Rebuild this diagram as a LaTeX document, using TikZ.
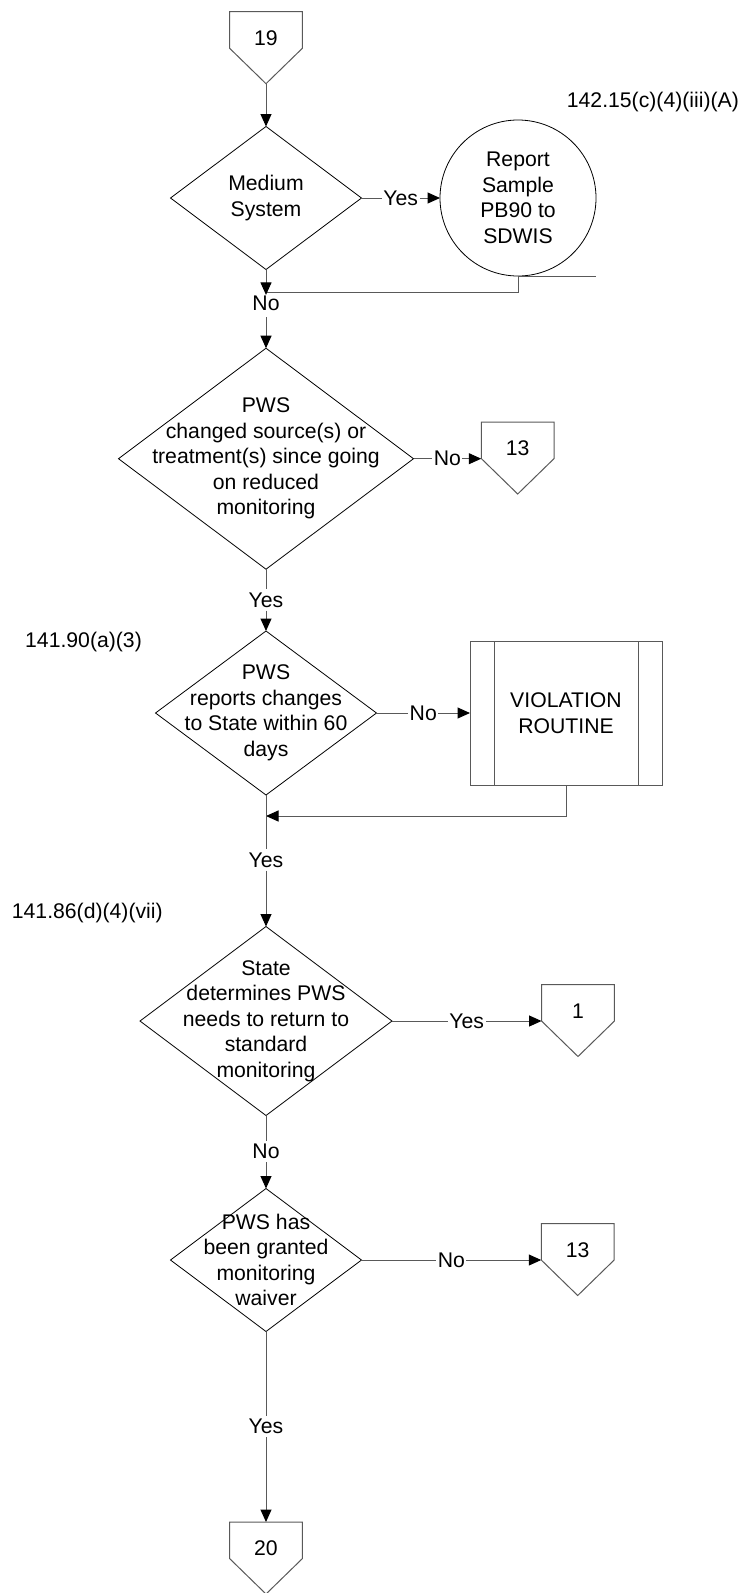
\documentclass[tikz,border=0pt]{standalone}
\usepackage{fontspec}
\setmainfont{Liberation Sans}
\usetikzlibrary{arrows.meta, calc, shapes.geometric}

\newcommand{\chartfont}{\fontsize{21.2pt}{25.5pt}\selectfont}

\begin{document}
\begin{tikzpicture}[
    x=1pt, y=1pt,
    font=\chartfont,
    >={Triangle[length=12.5pt,width=11pt,color=black]},
    line/.style={draw=black!65, line width=1pt},
    arr/.style={line, ->},
    decision/.style={
        draw,
        diamond,
        line width=0.8pt,
        inner sep=0pt,
        outer sep=0pt
    },
    dtext/.style={align=center, inner sep=0pt},
    report/.style={
        draw,
        circle,
        line width=0.8pt,
        minimum size=156pt,
        align=center,
        inner sep=0pt,
        outer sep=0pt
    },
    routine/.style={
        draw=black!65,
        line width=1pt,
        minimum width=192pt,
        minimum height=144pt,
        align=center,
        outer sep=0pt
    },
    offpage/.style={
        minimum width=72.5pt,
        minimum height=52pt,
        inner sep=0pt,
        anchor=north
    },
    hlab/.style={fill=white, inner sep=1.5pt},
    vlab/.style={inner sep=3pt},
    ref/.style={anchor=west, inner sep=0pt}
]

\useasboundingbox (0,0) rectangle (742,-1593);

% Off-page connectors
\node[offpage] (c19)  at (266,-11.7)   {19};
\node[offpage] (c13a) at (517.7,-422)  {13};
\node[offpage] (c1)   at (578,-984.5)  {1};
\node[offpage] (c13b) at (577.7,-1223.5) {13};
\node[offpage] (c20)  at (266,-1522)   {20};

\foreach \c in {c19,c13a,c1,c13b,c20} {
    \draw[line] (\c.north west) -- (\c.north east) -- ++(0,-36.5)
        -- ($(\c.north)+(0,-72)$) -- ($(\c.north west)+(0,-36.5)$) -- cycle;
    \coordinate (\c-tip) at ($(\c.north)+(0,-72)$);
}

% Decisions
\node[decision, minimum width=191pt, minimum height=143pt,
    label={[dtext]center:{Medium\\System}}] (d1) at (266,-198) {};

\node[decision, minimum width=295pt, minimum height=221pt,
    label={[dtext]center:{PWS\\changed source(s) or\\treatment(s) since going\\on reduced\\monitoring}}]
    (d2) at (266,-458.7) {};

\node[decision, minimum width=221pt, minimum height=164pt,
    label={[dtext]center:{PWS\\reports changes\\to State within 60\\days}}]
    (d3) at (266,-713) {};

\node[decision, minimum width=252pt, minimum height=189pt,
    label={[dtext]center:{State\\determines PWS\\needs to return to\\standard\\monitoring}}]
    (d4) at (266,-1021) {};

\node[decision, minimum width=191pt, minimum height=143pt,
    label={[dtext]center:{PWS has\\been granted\\monitoring\\waiver}}]
    (d5) at (266,-1260) {};

% Process boxes
\node[report] (circ) at (518,-198) {Report\\Sample\\PB90 to\\SDWIS};

\node[routine] (viol) at (566,-713) {VIOLATION\\ROUTINE};
\draw[line] ($(viol.north west)+(24,0)$) -- ($(viol.south west)+(24,0)$);
\draw[line] ($(viol.north east)+(-24,0)$) -- ($(viol.south east)+(-24,0)$);

% Rule references
\node[ref] (law1) at (566.7,-101.7) {142.15(c)(4)(iii)(A)};
\node[ref] (law2) at (25,-641.7)    {141.90(a)(3)};
\node[ref] (law3) at (11.7,-913)    {141.86(d)(4)(vii)};

% Labels on the main line
\node[vlab, inner sep=0.5pt] (noA) at (266,-303) {No};
\node[vlab] (yesB) at (266,-600)    {Yes};
\node[vlab] (yesC) at (266,-860)    {Yes};
\node[vlab] (noD)  at (266,-1151.7) {No};
\node[vlab] (yesE) at (266,-1426.7) {Yes};

\coordinate (joinA) at (266,-292.5);
\coordinate (joinB) at (266,-816);

% Connectors
\draw[arr] (c19-tip) -- (d1.north);
\draw[arr] (d1.east) -- node[hlab] {Yes} (circ.west);
\draw[line] (circ.south) -- (circ.south -| circ.east);
\draw[line] (circ.south) |- (joinA);
\draw[arr] (d1.south) -- (noA.north);
\draw[arr] ($(noA.south)+(0,-6)$) -- (d2.north);

\draw[arr] (d2.east) -- node[hlab] {No} (d2.east -| c13a.west);
\draw[line] (d2.south) -- (yesB.north);
\draw[arr] (yesB.south) -- (d3.north);

\draw[arr] (d3.east) -- node[hlab] {No} (viol.west);
\draw[arr] (viol.south) |- (joinB);
\draw[line] (d3.south) -- (yesC.north);
\draw[arr] (yesC.south) -- (d4.north);

\draw[arr] (d4.east) -- node[hlab] {Yes} (d4.east -| c1.west);
\draw[line] (d4.south) -- (noD.north);
\draw[arr] (noD.south) -- (d5.north);

\draw[arr] (d5.east) -- node[hlab] {No} (d5.east -| c13b.west);
\draw[line] (d5.south) -- (yesE.north);
\draw[arr] (yesE.south) -- (c20.north);

\end{tikzpicture}
\end{document}
